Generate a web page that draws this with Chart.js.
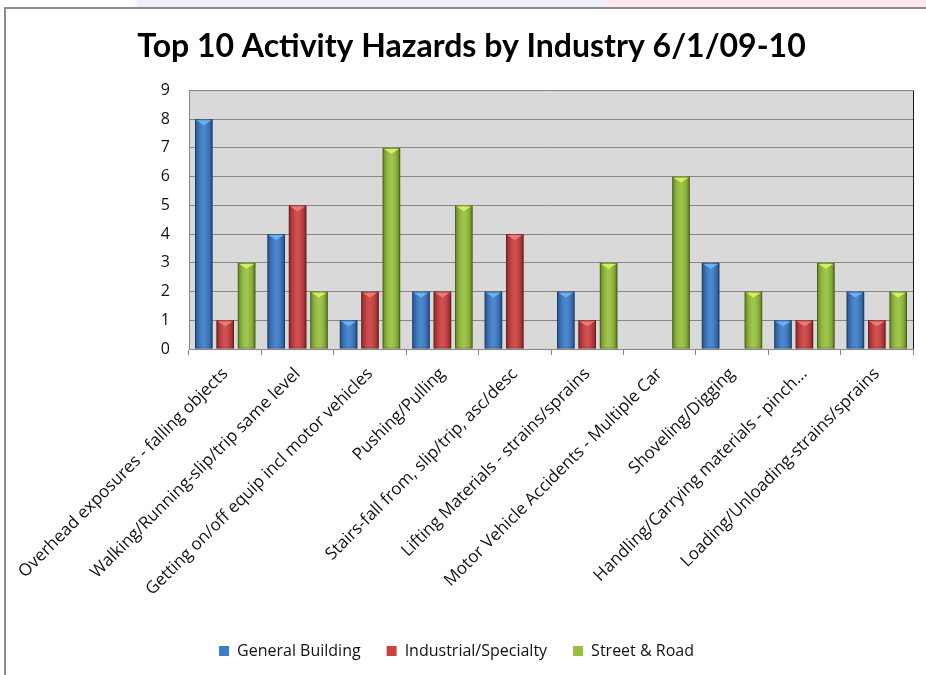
<!DOCTYPE html>
<html>
<head>
<meta charset="utf-8">
<script src="https://cdn.jsdelivr.net/npm/chart.js@4.4.1/dist/chart.umd.min.js"></script>
<style>
  html, body { margin: 0; padding: 0; overflow: hidden; }
  body {
    width: 926px; height: 675px; position: relative;
    background: linear-gradient(90deg, #ffffff 0px, #ffffff 130px, #efeffb 140px, #efeffb 600px, #fde9eb 610px, #fde9eb 926px);
  }
  #frame {
    position: absolute; left: 4px; top: 7px; width: 1000px; height: 1000px;
    border: 2px solid #8c8c8c; background: #ffffff;
  }
  #wrap { position: absolute; left: 0; top: 0; width: 926px; height: 700px; }
</style>
</head>
<body>
<div id="frame"></div>
<div id="wrap"><canvas id="hazards"></canvas></div>
<script>
const categories = [
    'Overhead exposures - falling objects',
    'Walking/Running-slip/trip same level',
    'Getting on/off equip incl motor vehicles',
    'Pushing/Pulling',
    'Stairs-fall from, slip/trip, asc/desc',
    'Lifting Materials - strains/sprains',
    'Motor Vehicle Accidents - Multiple Car',
    'Shoveling/Digging',
    'Handling/Carrying materials - pinch...',
    'Loading/Unloading-strains/sprains'
];
const generalBuilding = [8, 4, 1, 2, 2, 2, 0, 3, 1, 2];
const industrialSpecialty = [1, 5, 2, 2, 4, 1, 0, 0, 1, 1];
const streetRoad = [3, 2, 7, 5, 0, 3, 6, 2, 3, 2];
const yTicks = [0, 1, 2, 3, 4, 5, 6, 7, 8, 9];

const FONT = '"Open Sans", "DejaVu Sans", sans-serif';
const TITLE_FONT = 'Lato, "DejaVu Sans", sans-serif';

// gray plot area + right border; title sits a bit right of the legend
const plotArea = {
    id: 'plotArea',
    afterLayout(chart) {
        if (chart.titleBlock) {
            chart.titleBlock.left += 15;
            chart.titleBlock.right += 15;
        }
    },
    beforeDraw(chart) {
        const { ctx, chartArea: a } = chart;
        ctx.save();
        ctx.fillStyle = '#d9d9d9';
        ctx.fillRect(a.left, a.top, a.right - a.left, a.bottom - a.top);
        ctx.restore();
    },
    afterDatasetsDraw(chart) {
        const { ctx, chartArea: a } = chart;
        ctx.save();
        ctx.strokeStyle = '#1a1a1a';
        ctx.lineWidth = 1;
        ctx.beginPath();
        ctx.moveTo(a.right + 0.5, a.top);
        ctx.lineTo(a.right + 0.5, a.bottom);
        ctx.stroke();
        ctx.restore();
    }
};

// bevel shading on each bar
const bevel = {
    id: 'bevel',
    afterDatasetsDraw(chart) {
        const ctx = chart.ctx;
        chart.data.datasets.forEach((ds, i) => {
            const meta = chart.getDatasetMeta(i);
            meta.data.forEach((bar, j) => {
                if (!ds.data[j]) return;
                const w = bar.width, l = bar.x - w / 2, r = bar.x + w / 2;
                const top = bar.y, bottom = bar.base;
                ctx.save();
                const g = ctx.createLinearGradient(l, 0, r, 0);
                g.addColorStop(0, 'rgba(0,0,0,0.35)');
                g.addColorStop(0.18, 'rgba(0,0,0,0.12)');
                g.addColorStop(0.45, 'rgba(255,255,255,0.08)');
                g.addColorStop(0.55, 'rgba(255,255,255,0.08)');
                g.addColorStop(0.82, 'rgba(0,0,0,0.12)');
                g.addColorStop(1, 'rgba(0,0,0,0.4)');
                ctx.fillStyle = g;
                ctx.fillRect(l, top, w, bottom - top);
                // top chevron
                ctx.fillStyle = ds.topColor;
                ctx.beginPath();
                ctx.moveTo(l + 1, top + 1);
                ctx.lineTo(r - 1, top + 1);
                ctx.lineTo(bar.x, top + Math.min(6, (bottom - top) / 2));
                ctx.closePath();
                ctx.fill();
                ctx.strokeStyle = 'rgba(0,0,0,0.25)';
                ctx.lineWidth = 1;
                ctx.strokeRect(l + 0.5, top + 0.5, w - 1, bottom - top - 1);
                ctx.restore();
            });
        });
    }
};

const ctxHazards = document.getElementById('hazards').getContext('2d');
const hazardsChart = new Chart(ctxHazards, {
    type: 'bar',
    data: {
        labels: categories,
        datasets: [{
            label: 'General Building',
            data: generalBuilding,
            backgroundColor: '#3d7cc9',
            topColor: '#6fb0f0',
            barPercentage: 0.82,
            categoryPercentage: 0.887
        }, {
            label: 'Industrial/Specialty',
            data: industrialSpecialty,
            backgroundColor: '#cc4040',
            topColor: '#f07878',
            barPercentage: 0.82,
            categoryPercentage: 0.887
        }, {
            label: 'Street & Road',
            data: streetRoad,
            backgroundColor: '#97c03e',
            topColor: '#d4f060',
            barPercentage: 0.82,
            categoryPercentage: 0.887
        }]
    },
    options: {
        responsive: true,
        maintainAspectRatio: false,
        animation: false,
        layout: {
            padding: { left: 0, right: 13, top: 0, bottom: 31 }
        },
        plugins: {
            title: {
                display: true,
                text: 'Top 10 Activity Hazards by Industry 6/1/09-10',
                color: '#000',
                font: { family: TITLE_FONT, size: 32, weight: 'bold' },
                padding: { top: 27, bottom: 25 }
            },
            legend: {
                position: 'bottom',
                labels: {
                    color: '#111',
                    font: { family: FONT, size: 16 },
                    boxWidth: 10,
                    boxHeight: 10,
                    padding: 26
                }
            },
            tooltip: { enabled: false }
        },
        scales: {
            y: {
                min: 0,
                max: 9,
                afterFit(scale) { scale.width = 189; },
                afterBuildTicks(scale) { scale.ticks = yTicks.map(v => ({ value: v })); },
                ticks: {
                    color: '#111',
                    padding: 19,
                    font: { family: FONT, size: 16 }
                },
                grid: { color: '#868686', drawTicks: false },
                border: { color: '#868686' }
            },
            x: {
                afterFit(scale) { scale.height = 268; },
                ticks: {
                    color: '#111',
                    autoSkip: false,
                    minRotation: 45,
                    maxRotation: 45,
                    padding: 9,
                    font: { family: FONT, size: 17 }
                },
                grid: { drawOnChartArea: false, drawTicks: true, tickLength: 6, color: '#868686', offset: true },
                border: { color: '#868686' }
            }
        }
    },
    plugins: [plotArea, bevel]
});
</script>
</body>
</html>
